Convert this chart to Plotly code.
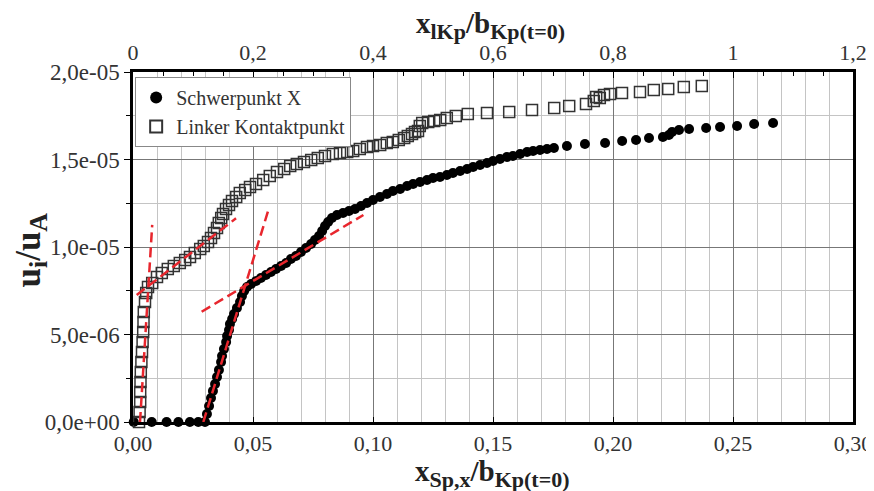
import plotly.graph_objects as go

# ---- data (Schwerpunkt X: bottom axis x_Sp,x/b ; Linker Kontaktpunkt: top axis x_lKp/b) ----
schwer_x = [0.0003, 0.0078, 0.0140, 0.0189, 0.0237, 0.0272,
            0.0300, 0.0308, 0.0317, 0.0325, 0.0333, 0.0342, 0.0350, 0.0358, 0.0367, 0.0371,
            0.0379, 0.0388, 0.0392, 0.0400, 0.0404, 0.0413, 0.0421, 0.0433, 0.0446, 0.0454,
            0.0463, 0.0475, 0.0492, 0.0513, 0.0533, 0.0554, 0.0575, 0.0596, 0.0617, 0.0638,
            0.0658, 0.0679, 0.0700, 0.0721, 0.0742, 0.0758, 0.0775, 0.0788, 0.0800, 0.0813,
            0.0829, 0.0850, 0.0875, 0.0900, 0.0925, 0.0950, 0.0975, 0.1000, 0.1029, 0.1058,
            0.1083, 0.1113, 0.1142, 0.1167, 0.1196, 0.1225, 0.1250, 0.1279, 0.1308, 0.1333,
            0.1363, 0.1392, 0.1417, 0.1446, 0.1475, 0.1500, 0.1529, 0.1558, 0.1583, 0.1613,
            0.1642, 0.1667, 0.1696, 0.1725, 0.1754, 0.1808, 0.1883, 0.1967, 0.2038, 0.2096,
            0.2150, 0.2208, 0.2233, 0.2246, 0.2275, 0.2317, 0.2388, 0.2446, 0.2517, 0.2588,
            0.2667]
schwer_y = [0, 0, 0, 0, 0, 0,
            0, 0.46e-6, 0.91e-6, 1.37e-6, 1.77e-6, 2.17e-6, 2.57e-6, 2.97e-6, 3.43e-6, 3.77e-6,
            4.17e-6, 4.57e-6, 4.91e-6, 5.26e-6, 5.60e-6, 5.89e-6, 6.17e-6, 6.51e-6, 6.86e-6, 7.20e-6,
            7.49e-6, 7.71e-6, 7.89e-6, 8.06e-6, 8.23e-6, 8.40e-6, 8.57e-6, 8.74e-6, 8.91e-6, 9.09e-6,
            9.31e-6, 9.49e-6, 9.71e-6, 9.94e-6, 10.17e-6, 10.40e-6, 10.63e-6, 10.91e-6, 11.20e-6, 11.43e-6,
            11.66e-6, 11.83e-6, 11.94e-6, 12.06e-6, 12.17e-6, 12.34e-6, 12.51e-6, 12.69e-6, 12.86e-6, 13.03e-6,
            13.20e-6, 13.31e-6, 13.49e-6, 13.60e-6, 13.71e-6, 13.83e-6, 13.94e-6, 14.00e-6, 14.11e-6, 14.23e-6,
            14.34e-6, 14.46e-6, 14.57e-6, 14.69e-6, 14.80e-6, 14.91e-6, 15.03e-6, 15.14e-6, 15.20e-6, 15.31e-6,
            15.43e-6, 15.49e-6, 15.54e-6, 15.60e-6, 15.66e-6, 15.77e-6, 15.89e-6, 15.94e-6, 16.06e-6, 16.11e-6,
            16.23e-6, 16.29e-6, 16.40e-6, 16.57e-6, 16.69e-6, 16.74e-6, 16.80e-6, 16.86e-6, 16.91e-6, 17.03e-6,
            17.09e-6]

linker_x = [0.010, 0.011, 0.012, 0.012, 0.0125, 0.013, 0.014, 0.015, 0.016, 0.017, 0.0175, 0.018, 0.020, 0.022,
            0.025, 0.032, 0.040, 0.048, 0.058, 0.068, 0.078, 0.087, 0.095, 0.103, 0.112, 0.118,
            0.125, 0.130, 0.135, 0.140, 0.143, 0.147, 0.150, 0.155, 0.160, 0.165, 0.172, 0.178,
            0.187, 0.195, 0.205, 0.217, 0.228, 0.240, 0.252, 0.262, 0.273, 0.285, 0.297, 0.308,
            0.320, 0.333, 0.345, 0.357, 0.367, 0.378, 0.390, 0.400, 0.412, 0.423, 0.433, 0.443,
            0.452, 0.458, 0.465, 0.470, 0.475, 0.478, 0.482, 0.492, 0.502, 0.512, 0.523, 0.538,
            0.558, 0.590, 0.627, 0.665, 0.702, 0.727, 0.755, 0.768, 0.772, 0.778, 0.785, 0.795,
            0.815, 0.845, 0.868, 0.892, 0.918, 0.948]
linker_y = [0, 0.57e-6, 1.14e-6, 1.71e-6, 2.29e-6, 2.86e-6, 3.43e-6, 4.00e-6, 4.57e-6, 5.14e-6, 5.71e-6, 6.29e-6, 6.86e-6, 7.37e-6,
            7.71e-6, 7.94e-6, 8.29e-6, 8.51e-6, 8.74e-6, 8.91e-6, 9.09e-6, 9.26e-6, 9.43e-6, 9.66e-6, 9.89e-6, 10.06e-6,
            10.29e-6, 10.51e-6, 10.80e-6, 11.09e-6, 11.37e-6, 11.66e-6, 11.89e-6, 12.17e-6, 12.40e-6, 12.63e-6, 12.86e-6, 13.09e-6,
            13.26e-6, 13.43e-6, 13.60e-6, 13.83e-6, 14.06e-6, 14.29e-6, 14.46e-6, 14.63e-6, 14.74e-6, 14.86e-6, 14.97e-6, 15.08e-6,
            15.20e-6, 15.31e-6, 15.37e-6, 15.43e-6, 15.49e-6, 15.60e-6, 15.71e-6, 15.77e-6, 15.83e-6, 15.94e-6, 16.00e-6, 16.11e-6,
            16.23e-6, 16.34e-6, 16.46e-6, 16.57e-6, 16.63e-6, 16.91e-6, 17.09e-6, 17.14e-6, 17.20e-6, 17.26e-6, 17.37e-6, 17.49e-6,
            17.60e-6, 17.66e-6, 17.71e-6, 17.83e-6, 17.94e-6, 18.06e-6, 18.17e-6, 18.34e-6, 18.57e-6, 18.51e-6, 18.69e-6, 18.74e-6,
            18.80e-6, 18.86e-6, 18.97e-6, 19.03e-6, 19.14e-6, 19.20e-6]

# red dashed tangent lines
schwer_fit1_x = [0.0293, 0.0564]
schwer_fit1_y = [0, 12.11e-6]
schwer_fit2_x = [0.0286, 0.0960]
schwer_fit2_y = [6.30e-6, 11.83e-6]
linker_fit1_x = [0.0117, 0.0320]
linker_fit1_y = [0, 11.26e-6]
linker_fit2_x = [0.0062, 0.1717]
linker_fit2_y = [7.26e-6, 11.64e-6]

# axis ticks
x_ticks = [0, 0.05, 0.10, 0.15, 0.20, 0.25, 0.30]
x_labels = ["0,00", "0,05", "0,10", "0,15", "0,20", "0,25", "0,30"]
x2_ticks = [0, 0.2, 0.4, 0.6, 0.8, 1.0, 1.2]
x2_labels = ["0", "0,2", "0,4", "0,6", "0,8", "1", "1,2"]
y_ticks = [0, 5e-6, 1e-5, 1.5e-5, 2e-5]
y_labels = ["0,0e+00", "5,0e-06", "1,0e-05", "1,5e-05", "2,0e-05"]

FONT = "Liberation Serif"
RED = "#e8262d"

fig = go.Figure()
fig.add_trace(go.Scatter(x=schwer_x, y=schwer_y, mode="markers", name="Schwerpunkt X",
                         marker=dict(symbol="circle", size=10, color="black"),
                         cliponaxis=False))
fig.add_trace(go.Scatter(x=linker_x, y=linker_y, mode="markers", name="Linker Kontaktpunkt",
                         xaxis="x2",
                         marker=dict(symbol="square-open", size=11, color="#333333",
                                     line=dict(width=1.5, color="#333333")),
                         cliponaxis=False))
for xs, ys, ax in [(schwer_fit1_x, schwer_fit1_y, "x"), (schwer_fit2_x, schwer_fit2_y, "x"),
                   (linker_fit1_x, linker_fit1_y, "x2"), (linker_fit2_x, linker_fit2_y, "x2")]:
    fig.add_trace(go.Scatter(x=xs, y=ys, mode="lines", xaxis=ax, showlegend=False,
                             line=dict(color=RED, width=2.5, dash="10px,5px"), hoverinfo="skip"))

tickfont = dict(family=FONT, size=23, color="#333333")
xtickfont = dict(family=FONT, size=22, color="#333333")
SUB = "<span style='font-size:22px'>%s</span>"
SUBL = "<span style='font-size:26px'>%s</span>"
top_title = "<b>x<sub>" + SUB % "lKp" + "</sub>/b<sub>" + SUB % "Kp(t=0)" + "</sub></b>"
bottom_title = "<b>x<sub>" + SUB % "Sp,x" + "</sub>/b<sub>" + SUB % "Kp(t=0)" + "</sub></b>"
left_title = "<b>u<sub>" + SUBL % "i" + "</sub>/u<sub>" + SUBL % "A" + "</sub></b>"

fig.update_layout(
    width=866, height=483,
    margin=dict(l=125, r=21, t=64, b=69),
    paper_bgcolor="white", plot_bgcolor="white",
    font=dict(family=FONT, color="#333333"),
    showlegend=True,
    legend=dict(x=0.003, y=0.986, xanchor="left", yanchor="top",
                bgcolor="white", bordercolor="#888888", borderwidth=1,
                font=dict(family=FONT, size=20, color="#333333"),
                itemsizing="constant", tracegroupgap=0),
    xaxis=dict(range=[0, 0.3], tickmode="array", tickvals=x_ticks, ticktext=x_labels,
               tickfont=xtickfont, showgrid=True, gridcolor="#777777", gridwidth=1,
               showline=True, linecolor="black", linewidth=2.5, mirror=True,
               ticks="inside", ticklen=5, tickcolor="black", zeroline=False, automargin=False,
               minor=dict(tickmode="linear", tick0=0, dtick=0.01, showgrid=True,
                          gridcolor="#c4c4c4", gridwidth=1, ticks="")),
    xaxis2=dict(range=[0, 1.2], overlaying="x", side="top", anchor="y",
                tickmode="array", tickvals=x2_ticks, ticktext=x2_labels,
                tickfont=xtickfont, showgrid=False, zeroline=False, automargin=False,
                showline=True, linecolor="black", linewidth=2.5,
                ticks="inside", ticklen=6, tickcolor="black",
                minor=dict(tickmode="linear", tick0=0, dtick=0.05, ticks="inside",
                           ticklen=4, tickcolor="black", showgrid=False)),
    yaxis=dict(range=[0, 2e-5], tickmode="array", tickvals=y_ticks, ticktext=y_labels,
               tickfont=tickfont, showgrid=True, gridcolor="#777777", gridwidth=1,
               showline=True, linecolor="black", linewidth=2.5, mirror=True,
               ticks="outside", ticklen=6, tickcolor="black", zeroline=False, automargin=False,
               minor=dict(tickmode="linear", tick0=0, dtick=2.5e-6, showgrid=True,
                          gridcolor="#c4c4c4", gridwidth=1, ticks="outside", ticklen=4,
                          tickcolor="black")),
    annotations=[
        dict(text=top_title, xref="paper", yref="paper", x=0.496, y=1.075,
             xanchor="center", yanchor="bottom", showarrow=False,
             font=dict(family=FONT, size=29, color="#222222")),
        dict(text=bottom_title, xref="paper", yref="paper", x=0.499, y=-0.088,
             xanchor="center", yanchor="top", showarrow=False,
             font=dict(family=FONT, size=29, color="#222222")),
        dict(text=left_title, xref="paper", yref="paper", x=-0.143, y=0.49,
             xanchor="center", yanchor="middle", showarrow=False, textangle=-90,
             font=dict(family=FONT, size=35, color="#222222")),
    ],
)

fig.write_html("out.html")
